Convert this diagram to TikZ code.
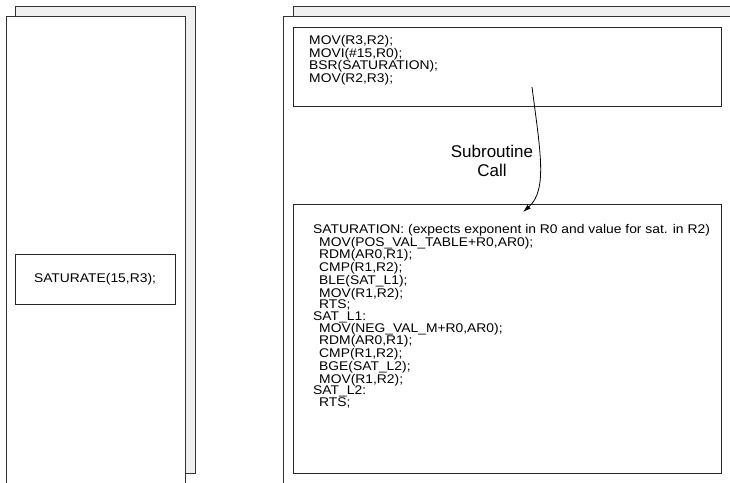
\documentclass[tikz,border=0pt]{standalone}
\usepackage{fontspec}
\setmainfont{Liberation Sans}
\newfontfamily\codefamily[FakeStretch=1.1]{Liberation Sans}
\usetikzlibrary{arrows.meta}
\newcommand\cind{\kern6pt}
\tikzset{
  backpage/.style={draw=black!80, fill=black!6, line width=1pt},
  frontpage/.style={draw=black!80, fill=white, line width=1pt},
  codebox/.style={draw=black!85, line width=0.9pt, inner sep=0pt},
  codefont/.style={font=\codefamily\fontsize{12.6}{11.65}\selectfont},
  codetext/.style={codefont, anchor=base west, inner sep=0pt},
  callarrow/.style={-{Latex[length=8pt,width=5pt]}, line width=0.8pt},
  labelfont/.style={font=\fontsize{17}{19}\selectfont, align=center},
}
\begin{document}
\begin{tikzpicture}[x=1pt,y=-1pt]
\useasboundingbox (0,0) rectangle (730,482);
\clip (0,0) rectangle (730,482);
% left page stack
\draw[backpage] (15,6) rectangle (195,473);
\draw[frontpage] (6,16) rectangle (185,495);
% right page stack
\draw[backpage] (293,6) rectangle (745,473);
\draw[frontpage] (283,16) rectangle (745,495);
% left box
\node[codebox, codefont, minimum width=160pt, minimum height=50pt] (sat) at (95,279) {SATURATE(15,R3);};
% top code box
\node[codebox, minimum width=428pt, minimum height=79pt] (callbox) at (507,66.5) {};
\node[codetext] (calltext) at (309,44.5) {\vtop{%
\hbox{MOV(R3,R2);}
\hbox{MOVI(\#15,R0);}
\hbox{BSR(SATURATION);}
\hbox{MOV(R2,R3);}}};
% bottom code box
\node[codebox, minimum width=428pt, minimum height=269pt] (subbox) at (507,338.5) {};
\node[codetext] (subtext) at (313,233.5) {\vtop{%
\hbox{SATURATION: (expects exponent in R0 and value for sat. in R2)}
\hbox{\cind MOV(POS\_VAL\_TABLE+R0,AR0);}
\hbox{\cind RDM(AR0,R1);}
\hbox{\cind CMP(R1,R2);}
\hbox{\cind BLE(SAT\_L1);}
\hbox{\cind MOV(R1,R2);}
\hbox{\cind RTS;}
\hbox{SAT\_L1:}
\hbox{\cind MOV(NEG\_VAL\_M+R0,AR0);}
\hbox{\cind RDM(AR0,R1);}
\hbox{\cind CMP(R1,R2);}
\hbox{\cind BGE(SAT\_L2);}
\hbox{\cind MOV(R1,R2);}
\hbox{SAT\_L2:}
\hbox{\cind RTS;}}};
% subroutine call arrow
\coordinate (callstart) at (532,87);
\coordinate (calltip) at (523,212);
\draw[callarrow] (callstart) .. controls (540,150) and (548,190) .. (calltip);
\node[labelfont] (calllabel) at (492,161) {Subroutine\\Call};
\end{tikzpicture}
\end{document}
